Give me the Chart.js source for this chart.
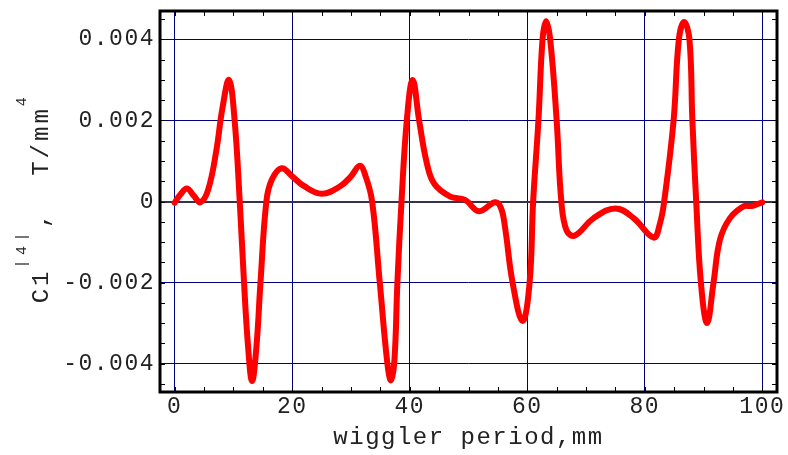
<!DOCTYPE html>
<html>
<head>
<meta charset="utf-8">
<script src="https://cdn.jsdelivr.net/npm/chart.js@4.4.0/dist/chart.umd.min.js"></script>
<style>
  html, body { margin: 0; padding: 0; background: #fff; }
  #wrap { width: 788px; height: 455px; }
</style>
</head>
<body>
<div id="wrap"><canvas id="chart"></canvas></div>
<script>
// wiggler period (mm) and the C1 |4| coefficient (T/mm^4)
const periodMm = [
  0, 1.0, 2.1, 3.2, 4.4, 5.7, 7.1, 8.1, 9.25, 10.2, 11.07, 11.8, 12.5, 13.17, 13.9, 14.6, 15.6, 16.5,
  18.2, 20.0, 21.9, 25.0, 28.1, 30.0, 31.5, 32.5, 33.6, 34.9, 36.2, 36.8, 37.4, 37.9, 38.6, 39.5,
  40.5, 41.6, 42.9, 44.2, 46.9, 49.4, 51.8, 54.5, 55.5, 56.2, 57.5, 59.2, 60.4, 61.0, 61.9, 62.6,
  63.2, 63.9, 65.0, 65.8, 66.7, 68.1, 71.3, 75.0, 78.1, 81.5, 82.6, 83.3, 84.9, 85.8, 86.7, 87.6,
  88.1, 88.75, 89.55, 90.6, 91.7, 92.8, 94.5, 96.8, 98.2, 100
];
const c1Values = [
  -0.00003, 0.00018, 0.00032, 0.00015, -0.00002, 0.00029, 0.00127, 0.00228, 0.0030, 0.0020, 0.0, -0.0020, -0.0036, -0.00443, -0.0036, -0.0020, 0.0, 0.00053,
  0.00082, 0.00062, 0.00039, 0.00019, 0.00037, 0.00062, 0.00088, 0.00062, 0.0, -0.0020, -0.0040, -0.00441, -0.0039, -0.0020, 0.0, 0.0020,
  0.0030, 0.0020, 0.00095, 0.00043, 0.00012, 0.00004, -0.00024, -0.00002, -0.00015, -0.00062, -0.0020, -0.00295, -0.0020, 0.0, 0.0020, 0.0040,
  0.00445, 0.0040, 0.0020, 0.0, -0.00072, -0.00084, -0.00041, -0.00017, -0.00041, -0.00089, -0.00053, 0.0, 0.0020, 0.0040, 0.00443, 0.0040,
  0.0020, 0.0, -0.0020, -0.0030, -0.0020, -0.00094, -0.00041, -0.00012, -0.00011, -0.00002
];

const xTicks = [0, 20, 40, 60, 80, 100];
const yTicks = [-0.004, -0.002, 0, 0.002, 0.004];
const xTitle = 'wiggler period,mm';
// y title is drawn in pieces so the 4s can sit as superscripts
const yTitlePieces = [
  { text: 'C1', sup: false },
  { text: '|4|', sup: true },
  { text: ',  T/mm', sup: false },
  { text: '4', sup: true }
];

const FONT = "'Liberation Mono', 'Courier New', monospace";
const NAVY = '#000080';

// Mathematica-ish spacing on the courier text
const spacingPlugin = {
  id: 'spacing',
  beforeLayout(chart) { chart.ctx.letterSpacing = '1.5px'; },
  beforeDraw(chart) { chart.ctx.letterSpacing = '1.5px'; }
};

const framePlugin = {
  id: 'frame',
  afterDraw(chart) {
    const ctx = chart.ctx;
    const { left, right, top, bottom } = chart.chartArea;
    const xs = chart.scales.x, ys = chart.scales.y;
    ctx.save();
    ctx.strokeStyle = '#000';
    ctx.lineWidth = 1;
    ctx.beginPath();
    // small inward ticks on every side
    for (let v = 0; v <= 100; v += 5) {
      const px = Math.round(xs.getPixelForValue(v)) + 0.5;
      ctx.moveTo(px, top); ctx.lineTo(px, top + 5);
      ctx.moveTo(px, bottom); ctx.lineTo(px, bottom - 5);
    }
    for (let i = -9; i <= 9; i++) {
      const py = Math.round(ys.getPixelForValue(i * 0.0005)) + 0.5;
      ctx.moveTo(left, py); ctx.lineTo(left + 5, py);
      ctx.moveTo(right, py); ctx.lineTo(right - 5, py);
    }
    ctx.stroke();
    ctx.lineWidth = 3;
    ctx.strokeRect(left, top, right - left, bottom - top);

    // rotated y title
    ctx.translate(48, 198);
    ctx.rotate(-Math.PI / 2);
    ctx.fillStyle = '#222';
    ctx.textAlign = 'left';
    ctx.textBaseline = 'alphabetic';
    const setFont = p => {
      ctx.font = p.sup ? `15px ${FONT}` : `24px ${FONT}`;
      ctx.letterSpacing = p.sup ? '4.5px' : '3px';
    };
    let total = 0;
    yTitlePieces.forEach(p => { setFont(p); total += ctx.measureText(p.text).width; });
    let x = -total / 2;
    yTitlePieces.forEach(p => {
      setFont(p);
      ctx.fillText(p.text, x, p.sup ? -22 : 0);
      x += ctx.measureText(p.text).width;
    });
    ctx.restore();
  }
};

const ctx = document.getElementById('chart').getContext('2d');
new Chart(ctx, {
  type: 'line',
  data: {
    datasets: [{
      data: periodMm.map((p, i) => ({ x: p, y: c1Values[i] })),
      borderColor: '#ff0000',
      borderWidth: 6,
      borderCapStyle: 'round',
      borderJoinStyle: 'round',
      tension: 0.4,
      pointRadius: 0,
      fill: false
    }]
  },
  options: {
    responsive: true,
    maintainAspectRatio: false,
    animation: false,
    layout: { padding: { top: 11, right: 11, bottom: 0, left: 0 } },
    plugins: { legend: { display: false }, tooltip: { enabled: false } },
    scales: {
      x: {
        type: 'linear',
        min: -2.5,
        max: 102.5,
        afterBuildTicks: s => { s.ticks = xTicks.map(v => ({ value: v })); },
        afterFit: s => { s.height = 63; s.paddingLeft = 0; s.paddingRight = 0; },
        border: { display: false },
        grid: { color: NAVY, lineWidth: 1, drawTicks: false },
        ticks: {
          padding: 1,
          color: '#222',
          font: { family: FONT, size: 23 },
          maxRotation: 0,
          callback: v => String(v)
        },
        title: {
          display: true,
          text: xTitle,
          color: '#222',
          font: { family: FONT, size: 24 },
          padding: { top: 0, bottom: 3 }
        }
      },
      y: {
        min: -0.0047,
        max: 0.0047,
        afterBuildTicks: s => { s.ticks = yTicks.map(v => ({ value: v })); },
        afterFit: s => { s.width = 160; s.paddingTop = 0; s.paddingBottom = 0; },
        border: { display: false },
        grid: {
          drawTicks: false,
          color: c => (c.tick && c.tick.value === 0 ? '#333350' : NAVY),
          lineWidth: c => (c.tick && c.tick.value === 0 ? 2 : 1)
        },
        ticks: {
          padding: 5,
          color: '#222',
          font: { family: FONT, size: 23 },
          callback: v => (Math.abs(v) < 1e-9 ? '0' : v.toFixed(3))
        }
      }
    }
  },
  plugins: [spacingPlugin, framePlugin]
});
</script>
</body>
</html>
